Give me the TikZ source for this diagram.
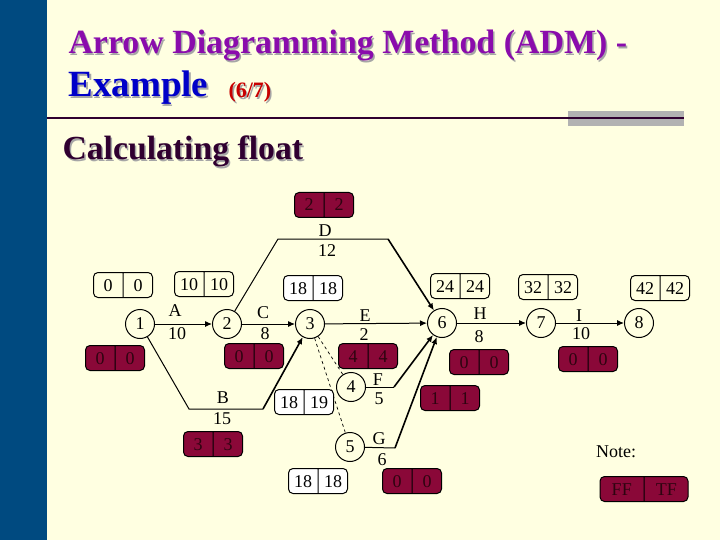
\documentclass[tikz,border=0pt]{standalone}
\usepackage{fontspec}
\setmainfont{Liberation Serif}
\usetikzlibrary{arrows.meta,shapes}

\definecolor{slidebg}{HTML}{FFFFE1}
\definecolor{sidebar}{HTML}{004A80}
\definecolor{floatred}{HTML}{8A0838}
\definecolor{floatink}{HTML}{2E0410}
\definecolor{titlepurple}{HTML}{8A0CAC}
\definecolor{titleblue}{HTML}{0000C8}
\definecolor{titlered}{HTML}{C80000}
\definecolor{titledark}{HTML}{300030}

\newcommand{\shadowed}[1]{\rlap{\kern1.5pt\raisebox{-1.5pt}{\color{black!35}#1}}#1}
\newcommand{\cells}[2]{\makebox[20pt]{\rule[-6.5pt]{0pt}{25pt}#1}\nodepart{two}\makebox[20pt]{\rule[-6.5pt]{0pt}{25pt}#2}}

\tikzset{
  event/.style={circle,draw,fill=slidebg,minimum size=29pt,inner sep=0pt,font=\fontsize{18}{20}\selectfont},
  lbl/.style={inner sep=0pt,font=\fontsize{18}{20}\selectfont},
  timebox/.style={rectangle split,rectangle split horizontal,rectangle split parts=2,draw,rounded corners=4.5pt,
    inner xsep=4.5pt,inner ysep=0pt,fill=slidebg,font=\fontsize{18}{20}\selectfont},
  floatbox/.style={timebox,fill=floatred,text=floatink},
  heavy/.style={line width=1.6pt},
  dummy/.style={dashed,line width=0.7pt}
}

\begin{document}
\begin{tikzpicture}[x=1pt,y=-1pt,>={Latex[length=7pt,width=6pt]},line width=1pt]
\useasboundingbox (0,0) rectangle (720,540);
\fill[slidebg] (0,0) rectangle (720,540);
\fill[sidebar] (0,0) rectangle (47,540);
\fill[black!30] (568,111) rectangle (684,126);
\draw[titledark,line width=2pt] (47,118) -- (684,118);

% titles
\node[anchor=base west,inner sep=0pt,text=titlepurple,font=\bfseries\fontsize{33.9}{36}\selectfont] (title) at (68,54) {\shadowed{Arrow Diagramming Method (ADM) -}};
\node[anchor=base west,inner sep=0pt,text=titleblue,font=\bfseries\fontsize{37}{39}\selectfont] (example) at (68,97) {\shadowed{Example}};
\node[anchor=base west,inner sep=0pt,text=titlered,font=\bfseries\fontsize{22}{24}\selectfont] (part) at (228,98) {\shadowed{(6/7)}};
\node[anchor=base west,inner sep=0pt,text=titledark,font=\bfseries\fontsize{33.7}{36}\selectfont] (sub) at (62,160) {\shadowed{Calculating float}};

% bends
\coordinate (bleft) at (189,409);
\coordinate (bright) at (263,409);
\coordinate (dleft) at (278,239);
\coordinate (dright) at (388,239);
\coordinate (fend) at (394,387);
\coordinate (gend) at (395,448);

% events
\node[event] (n1) at (140,324) {1};
\node[event] (n2) at (227,324) {2};
\node[event] (n3) at (310,324) {3};
\node[event] (n4) at (351,387) {4};
\node[event] (n5) at (350,447) {5};
\node[event] (n6) at (442,323) {6};
\node[event] (n7) at (541,323) {7};
\node[event] (n8) at (639,323) {8};

% activities
\draw[->] (n1) -- (n2);
\draw[->] (n2) -- (n3);
\draw[->] (n3) -- (n6);
\draw[->] (n6) -- (n7);
\draw[->] (n7) -- (n8);
\draw (n1) -- (bleft) -- (bright);
\draw[->,heavy] (bright) -- (n3);
\draw (n2) -- (dleft) -- (dright);
\draw[->,heavy] (dright) -- (n6);
\draw (n4) -- (fend);
\draw[->,heavy] (fend) -- (n6);
\draw (n5) -- (gend);
\draw[->,heavy] (gend) -- (n6);
\draw[dummy] (n3) -- (n4);
\draw[dummy] (n3) -- (n5);

% activity labels
\node[lbl] (la) at (175,311) {A};
\node[lbl] (da) at (177,334) {10};
\node[lbl] (lb) at (223,398) {B};
\node[lbl] (db) at (222,419) {15};
\node[lbl] (lc) at (263,313) {C};
\node[lbl] (dc) at (265,334) {8};
\node[lbl] (ld) at (325,231) {D};
\node[lbl] (dd) at (327,251) {12};
\node[lbl] (le) at (365,316) {E};
\node[lbl] (de) at (364,335) {2};
\node[lbl] (lf) at (378,380) {F};
\node[lbl] (df) at (379,399) {5};
\node[lbl] (lg) at (379,439) {G};
\node[lbl] (dg) at (382,460) {6};
\node[lbl] (lh) at (480,314) {H};
\node[lbl] (dh) at (479,337) {8};
\node[lbl] (li) at (579,316) {I};
\node[lbl] (di) at (581,334) {10};
\node[lbl] (note) at (616,452) {Note:};

% early and late times
\node[timebox] (t1) at (123,285) {\cells{0}{0}};
\node[timebox] (t2) at (204,284) {\cells{10}{10}};
\node[timebox,fill=white] (t3) at (313,288) {\cells{18}{18}};
\node[timebox,fill=white] (t4) at (304,402) {\cells{18}{19}};
\node[timebox,fill=white] (t5) at (318,481) {\cells{18}{18}};
\node[timebox] (t6) at (460,286) {\cells{24}{24}};
\node[timebox] (t7) at (548,287) {\cells{32}{32}};
\node[timebox] (t8) at (660,288) {\cells{42}{42}};

% floats
\node[floatbox] (fa) at (115,358) {\cells{0}{0}};
\node[floatbox] (fb) at (213,444) {\cells{3}{3}};
\node[floatbox] (fc) at (254,356) {\cells{0}{0}};
\node[floatbox] (fd) at (324,205) {\cells{2}{2}};
\node[floatbox] (fe) at (368,356) {\cells{4}{4}};
\node[floatbox] (ff) at (450,398) {\cells{1}{1}};
\node[floatbox] (fg) at (412,481) {\cells{0}{0}};
\node[floatbox] (fh) at (479,362) {\cells{0}{0}};
\node[floatbox] (fi) at (588,359) {\cells{0}{0}};
\node[floatbox] (fnote) at (644,489) {\makebox[34.5pt]{\rule[-6.5pt]{0pt}{25pt}FF}\nodepart{two}\makebox[34.5pt]{\rule[-6.5pt]{0pt}{25pt}TF}};
\end{tikzpicture}
\end{document}
